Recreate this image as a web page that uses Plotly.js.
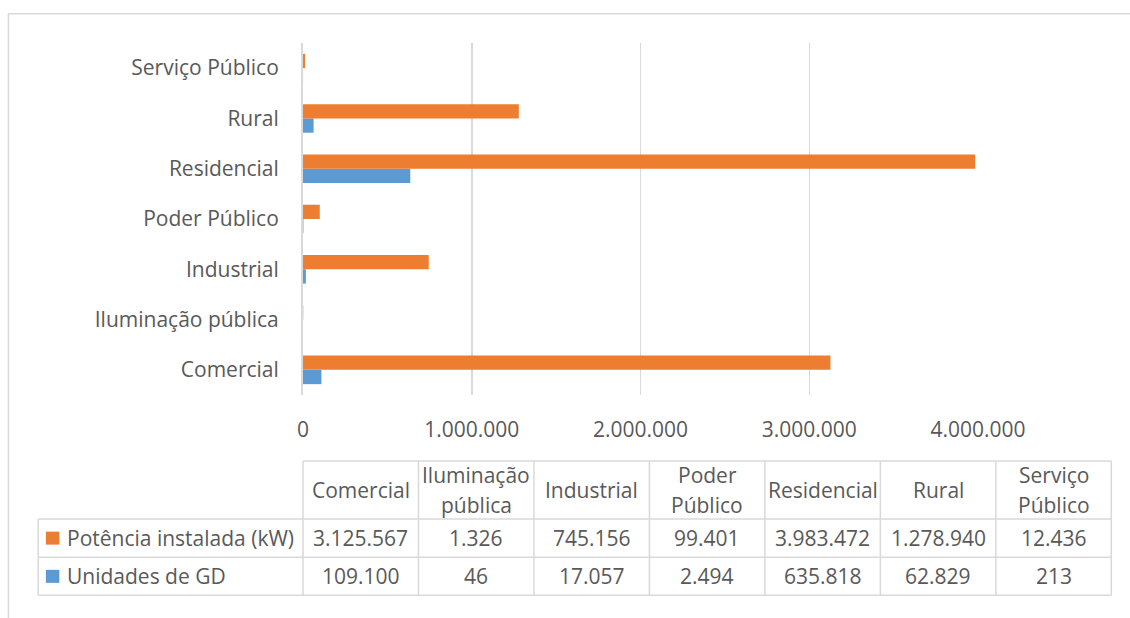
<!DOCTYPE html>
<html>
<head>
<meta charset="utf-8">
<script src="https://cdn.plot.ly/plotly-3.0.1.min.js"></script>
<style>
  html, body { margin: 0; padding: 0; background: #ffffff; }
  #chart { width: 1130px; height: 618px; }
</style>
</head>
<body>
<div id="chart"></div>
<script>
// ---- data ----
const categories = ['Comercial', 'Iluminação pública', 'Industrial', 'Poder Público', 'Residencial', 'Rural', 'Serviço Público'];
const potenciaName = 'Potência instalada (kW)';
const potencia = [3125567, 1326, 745156, 99401, 3983472, 1278940, 12436];
const unidadesName = 'Unidades de GD';
const unidades = [109100, 46, 17057, 2494, 635818, 62829, 213];
const xTickVals = [0, 1000000, 2000000, 3000000, 4000000];

// ---- styling ----
const ORANGE = '#ED7D31';
const BLUE = '#5B9BD5';
const TEXT = '#595959';
const GRID = '#d9d9d9';
const FONT = 'Open Sans, Lato, sans-serif';
const FS = 21;

// plot area in pixels
const L = 302.5, R = 978.5, T = 42.7, B = 395;
const W = R - L, H = B - T;
const xp = px => (px - L) / W;
const yp = py => 1 - (py - T) / H;

function fmt(n) {
  return String(n).replace(/\B(?=(\d{3})+(?!\d))/g, '.');
}

const traces = [
  { type: 'bar', orientation: 'h', name: unidadesName, y: categories, x: unidades,
    marker: { color: BLUE }, hoverinfo: 'skip' },
  { type: 'bar', orientation: 'h', name: potenciaName, y: categories, x: potencia,
    marker: { color: ORANGE }, hoverinfo: 'skip' }
];

const shapes = [];
const annotations = [];
const line = (x0, y0, x1, y1, w) => shapes.push({ type: 'line', xref: 'paper', yref: 'paper',
  x0: xp(x0), y0: yp(y0), x1: xp(x1), y1: yp(y1), line: { color: GRID, width: w || 1.5 } });

// outer chart border
shapes.push({ type: 'rect', xref: 'paper', yref: 'paper', x0: xp(7.5), y0: yp(13.5), x1: xp(1160), y1: yp(660),
  line: { color: GRID, width: 1.5 }, fillcolor: 'rgba(0,0,0,0)', layer: 'below' });

// data table geometry
const tLeft = 37.3, tColStart = 302.5, tRight = 1112;
const tTop = 461, tHead = 519, tRow1 = 557.5, tRow2 = 595.5;
const colW = (tRight - tColStart) / categories.length;

line(tColStart, tTop, tRight, tTop);
line(tLeft, tHead, tRight, tHead);
line(tLeft, tRow1, tRight, tRow1);
line(tLeft, tRow2, tRight, tRow2);
line(tLeft, tHead, tLeft, tRow2);
for (let i = 0; i <= categories.length; i++) {
  const x = tColStart + i * colW;
  line(x, tTop, x, tRow2);
}

const txt = (x, y, text, anchor) => annotations.push({ xref: 'paper', yref: 'paper', x: xp(x), y: yp(y),
  text: text, showarrow: false, xanchor: anchor || 'center', yanchor: 'middle',
  font: { family: FONT, size: FS, color: TEXT } });

// headers (wrap multi-word names to two lines)
categories.forEach((c, i) => {
  const cx = tColStart + (i + 0.5) * colW;
  const words = c.split(' ');
  if (words.length > 1) {
    txt(cx, 475.5, words[0]);
    txt(cx, 505, words.slice(1).join(' '));
  } else {
    txt(cx, 490, c);
  }
});

// rows
const rows = [
  { name: potenciaName, vals: potencia, color: ORANGE, yc: (tHead + tRow1) / 2 },
  { name: unidadesName, vals: unidades, color: BLUE, yc: (tRow1 + tRow2) / 2 }
];
rows.forEach(r => {
  shapes.push({ type: 'rect', xref: 'paper', yref: 'paper', x0: xp(45), x1: xp(58.5),
    y0: yp(r.yc - 6.5), y1: yp(r.yc + 6.5), line: { width: 0 }, fillcolor: r.color });
  txt(64, r.yc, r.name, 'left');
  r.vals.forEach((v, i) => txt(tColStart + (i + 0.5) * colW, r.yc, fmt(v)));
});

const layout = {
  width: 1130, height: 618,
  margin: { l: L, r: 1130 - R, t: T, b: 618 - B, pad: 0 },
  paper_bgcolor: '#ffffff', plot_bgcolor: '#ffffff',
  separators: ',.',
  barmode: 'group', bargap: 0.432, bargroupgap: 0,
  showlegend: false,
  font: { family: FONT, size: FS, color: TEXT },
  xaxis: {
    range: [0, 4000000], tickvals: xTickVals, tickformat: ',d',
    showgrid: true, gridcolor: GRID, gridwidth: 1.5, zeroline: false, showline: false,
    ticks: '', ticklabelstandoff: 20, fixedrange: true,
    tickfont: { family: FONT, size: FS, color: TEXT }
  },
  yaxis: {
    type: 'category', showgrid: false, zeroline: false,
    showline: true, linecolor: GRID, linewidth: 2,
    ticks: '', ticklabelstandoff: 18, fixedrange: true,
    tickfont: { family: FONT, size: FS, color: TEXT }
  },
  shapes: shapes,
  annotations: annotations
};

Plotly.newPlot('chart', traces, layout, { staticPlot: true, displayModeBar: false });
</script>
</body>
</html>
